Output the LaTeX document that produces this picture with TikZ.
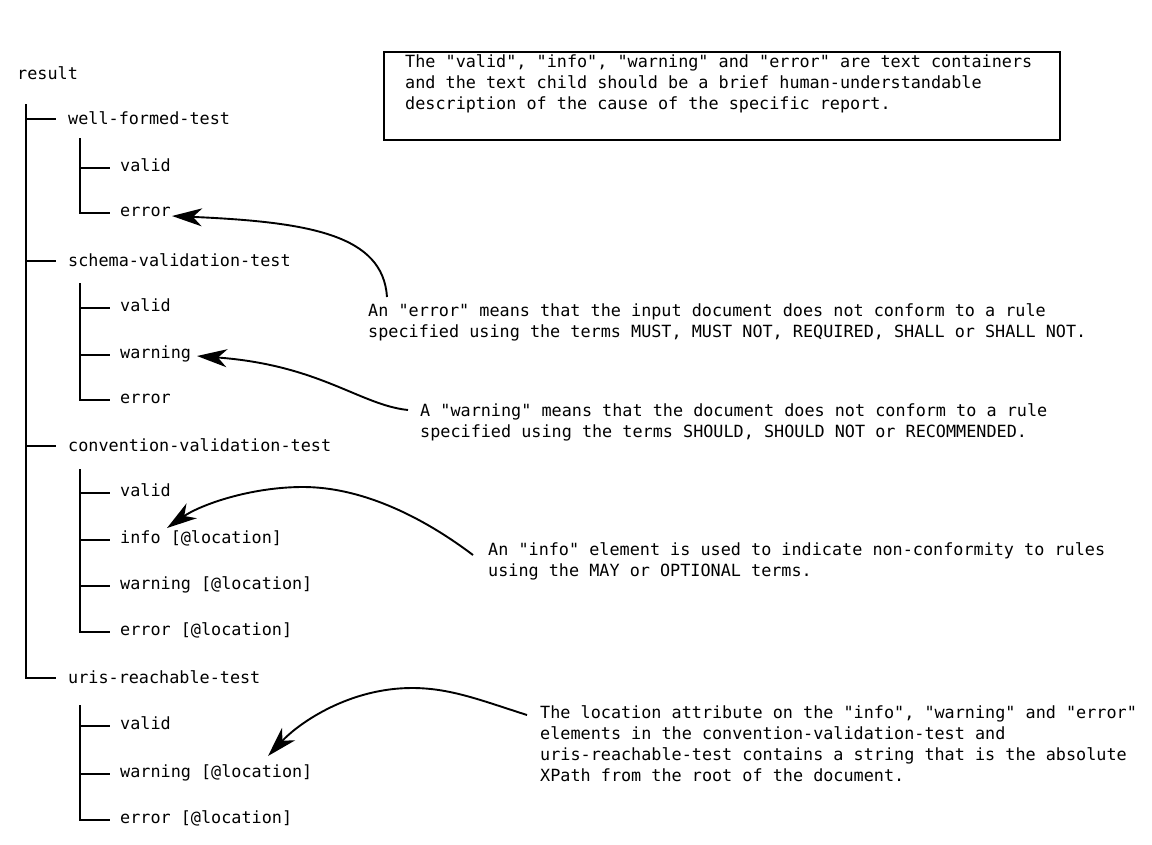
\documentclass[tikz,border=0pt]{standalone}
\usepackage{fontspec}
\setmonofont{DejaVu Sans Mono}
\usetikzlibrary{arrows.meta}
\begin{document}
\begin{tikzpicture}[x=1pt,y=-1pt,
  txt/.style={font=\ttfamily\fontsize{16.8}{21}\selectfont, inner sep=0pt, anchor=mid west},
  note/.style={font=\ttfamily\fontsize{16.8}{21}\selectfont, inner sep=0pt, align=left, anchor=base west},
  tree/.style={line width=1.9pt},
  callout/.style={line width=1.9pt, -{Stealth[length=30pt,width=18pt,inset=9pt]}},
]
\useasboundingbox (0,0) rectangle (1152,844);

% tree nodes
\node[txt] (result) at (17,77) {result};
\node[txt] (wft) at (68,122) {well-formed-test};
\node[txt] (v1) at (120,169) {valid};
\node[txt] (e1) at (120,214) {error};
\node[txt] (svt) at (68,264) {schema-validation-test};
\node[txt] (v2) at (120,309) {valid};
\node[txt] (w2) at (120,356) {warning};
\node[txt] (e2) at (120,401) {error};
\node[txt] (cvt) at (68,449) {convention-validation-test};
\node[txt] (v3) at (120,494) {valid};
\node[txt] (i3) at (120,541) {info [@location]};
\node[txt] (w3) at (120,587) {warning [@location]};
\node[txt] (e3) at (120,633) {error [@location]};
\node[txt] (urt) at (68,681) {uris-reachable-test};
\node[txt] (v4) at (120,727) {valid};
\node[txt] (w4) at (120,775) {warning [@location]};
\node[txt] (e4) at (120,821) {error [@location]};

% tree lines
\coordinate (r0) at (26,104);
\foreach \c in {wft,svt,cvt,urt}
  \draw[tree] (r0) |- ([xshift=-12pt,yshift=3pt]\c.mid west);
\coordinate (k1) at (80,138);
\foreach \c in {v1,e1}
  \draw[tree] (k1) |- ([xshift=-10pt,yshift=1pt]\c.mid west);
\coordinate (k2) at (80,283);
\foreach \c in {v2,w2,e2}
  \draw[tree] (k2) |- ([xshift=-10pt,yshift=1pt]\c.mid west);
\coordinate (k3) at (80,469);
\foreach \c in {v3,i3,w3,e3}
  \draw[tree] (k3) |- ([xshift=-10pt,yshift=1pt]\c.mid west);
\coordinate (k4) at (80,705);
\foreach \c in {v4,w4,e4}
  \draw[tree] (k4) |- ([xshift=-10pt,yshift=1pt]\c.mid west);

% top box
\node[draw, line width=1.9pt, minimum width=676pt, minimum height=88pt, anchor=north west, inner sep=0pt] (box) at (383,51) {};
\node[note] (boxtext) at (405,109.6) {The "valid", "info", "warning" and "error" are text containers\\and the text child should be a brief human-understandable\\description of the cause of the specific report.};

% notes (anchored at the baseline of their last line)
\node[note] (errnote) at (368,337.6) {An "error" means that the input document does not conform to a rule\\specified using the terms MUST, MUST NOT, REQUIRED, SHALL or SHALL NOT.};
\node[note] (warnnote) at (420,437.6) {A "warning" means that the document does not conform to a rule\\specified using the terms SHOULD, SHOULD NOT or RECOMMENDED.};
\node[note] (infonote) at (488,576.6) {An "info" element is used to indicate non-conformity to rules\\using the MAY or OPTIONAL terms.};
\node[note] (locnote) at (540,781.6) {The location attribute on the "info", "warning" and "error"\\elements in the convention-validation-test and\\uris-reachable-test contains a string that is the absolute\\XPath from the root of the document.};

% callout arrows
\coordinate (a1) at (387,297);
\coordinate (t1) at (172,216);
\draw[callout] (a1) .. controls (383,235) and (310,222) .. (t1);
\coordinate (a2) at (408,410);
\coordinate (t2) at (197,356);
\draw[callout] (a2) .. controls (360,405) and (320,365) .. (t2);
\coordinate (a3) at (473,555);
\coordinate (t3) at (167,528);
\draw[callout] (a3) .. controls (420,515) and (360,487) .. (303,487) .. controls (250,487) and (200,505) .. (t3);
\coordinate (a4) at (527,715);
\coordinate (t4) at (268,756);
\draw[callout] (a4) .. controls (480,700) and (450,688) .. (412,688) .. controls (350,688) and (300,722) .. (t4);
\end{tikzpicture}
\end{document}
